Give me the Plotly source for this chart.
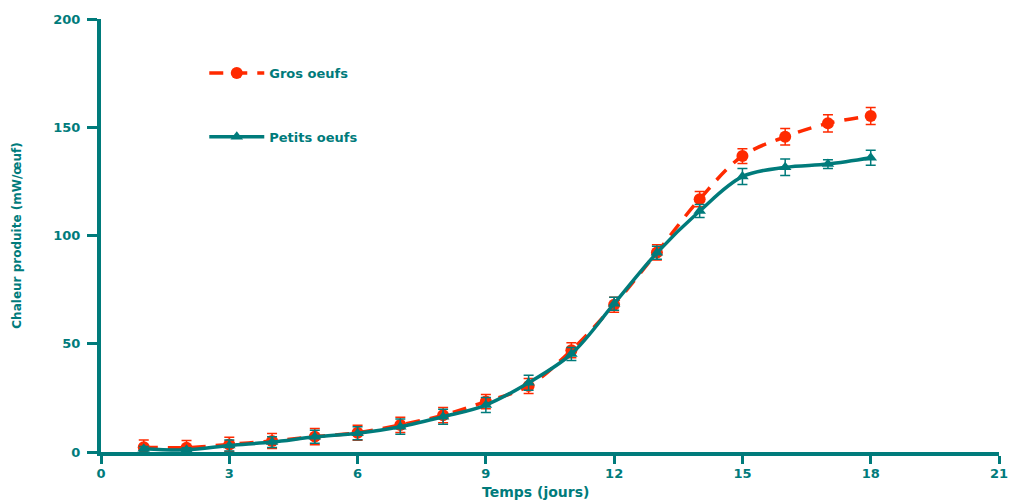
import plotly.graph_objects as go

days = list(range(1, 19))
gros = [2.2, 2.0, 3.5, 5.1, 7.1, 8.9, 12.5, 17.0, 23.3, 30.5, 47.0, 68.0, 92.2, 116.8, 136.7, 145.6, 151.8, 155.2]
gros_err = [3.3, 3.3, 3.3, 3.5, 3.8, 3.5, 3.5, 3.5, 3.3, 3.5, 3.5, 3.5, 3.5, 3.5, 3.4, 3.8, 4.0, 3.9]
petits = [1.5, 1.0, 3.0, 4.6, 7.0, 8.7, 11.7, 16.3, 21.7, 32.0, 45.3, 68.5, 92.0, 111.3, 127.2, 131.5, 133.0, 135.9]
petits_err = [1.0, 1.0, 2.5, 2.5, 3.0, 3.0, 3.5, 3.5, 3.5, 3.5, 3.0, 3.0, 3.0, 3.0, 3.7, 3.8, 2.0, 3.5]

x_ticks = [0, 3, 6, 9, 12, 15, 18, 21]
y_ticks = [0, 50, 100, 150, 200]

RED = "#ff2a00"
TEAL = "#007b7b"

fig = go.Figure()
fig.add_trace(go.Scatter(
    x=days, y=gros, name="Gros oeufs", mode="lines+markers",
    line=dict(color=RED, width=3.5, dash="14px,10px", shape="spline"),
    marker=dict(symbol="circle", size=12, color=RED),
    error_y=dict(type="data", array=gros_err, color=RED, thickness=1.5, width=5),
    legendgroup="g", cliponaxis=False,
))
fig.add_trace(go.Scatter(
    x=days, y=petits, name="Petits oeufs", mode="lines+markers",
    line=dict(color=TEAL, width=3.5, shape="spline"),
    marker=dict(symbol="triangle-up", size=11, color=TEAL),
    error_y=dict(type="data", array=petits_err, color=TEAL, thickness=1.5, width=5),
    legendgroup="p", cliponaxis=False,
))

font_family = "DejaVu Sans"
tick_font = dict(family=font_family, size=13, color=TEAL, weight="bold")
fig.update_layout(
    width=1012, height=504,
    margin=dict(l=101, r=13, t=19, b=52, autoexpand=False),
    plot_bgcolor="white", paper_bgcolor="white",
    font=dict(family=font_family, color=TEAL, size=12),
    showlegend=True,
    legend=dict(
        x=0.115, y=0.91, xanchor="left", yanchor="top",
        bgcolor="rgba(0,0,0,0)", traceorder="grouped", tracegroupgap=44,
        font=dict(family=font_family, size=13, weight="bold"),
        itemwidth=55,
    ),
    xaxis=dict(
        range=[0, 21], tickmode="array", tickvals=x_ticks,
        ticktext=[str(v) for v in x_ticks],
        showgrid=False, zeroline=False, automargin=False,
        showline=True, linecolor=TEAL, linewidth=4,
        ticks="outside", ticklen=8, tickwidth=3, tickcolor=TEAL,
        ticklabelstandoff=-2,
        tickfont=tick_font,
    ),
    yaxis=dict(
        range=[0, 200], tickmode="array", tickvals=y_ticks,
        ticktext=[str(v) for v in y_ticks],
        showgrid=False, zeroline=False, automargin=False,
        showline=True, linecolor=TEAL, linewidth=4,
        ticks="outside", ticklen=10, tickwidth=3, tickcolor=TEAL,
        ticklabelstandoff=4,
        tickfont=tick_font,
        title=dict(text="Chaleur produite (mW/œuf)", standoff=30,
                   font=dict(family=font_family, size=12, color=TEAL, weight="bold")),
    ),
    annotations=[dict(
        text="Temps (jours)", xref="paper", yref="paper",
        x=0.484, y=0, yshift=-40, xanchor="center", yanchor="middle",
        showarrow=False,
        font=dict(family=font_family, size=14, color=TEAL, weight="bold"),
    )],
)

fig.write_html("out.html", post_script="document.body.style.margin='0';",
               config={"displayModeBar": False})
